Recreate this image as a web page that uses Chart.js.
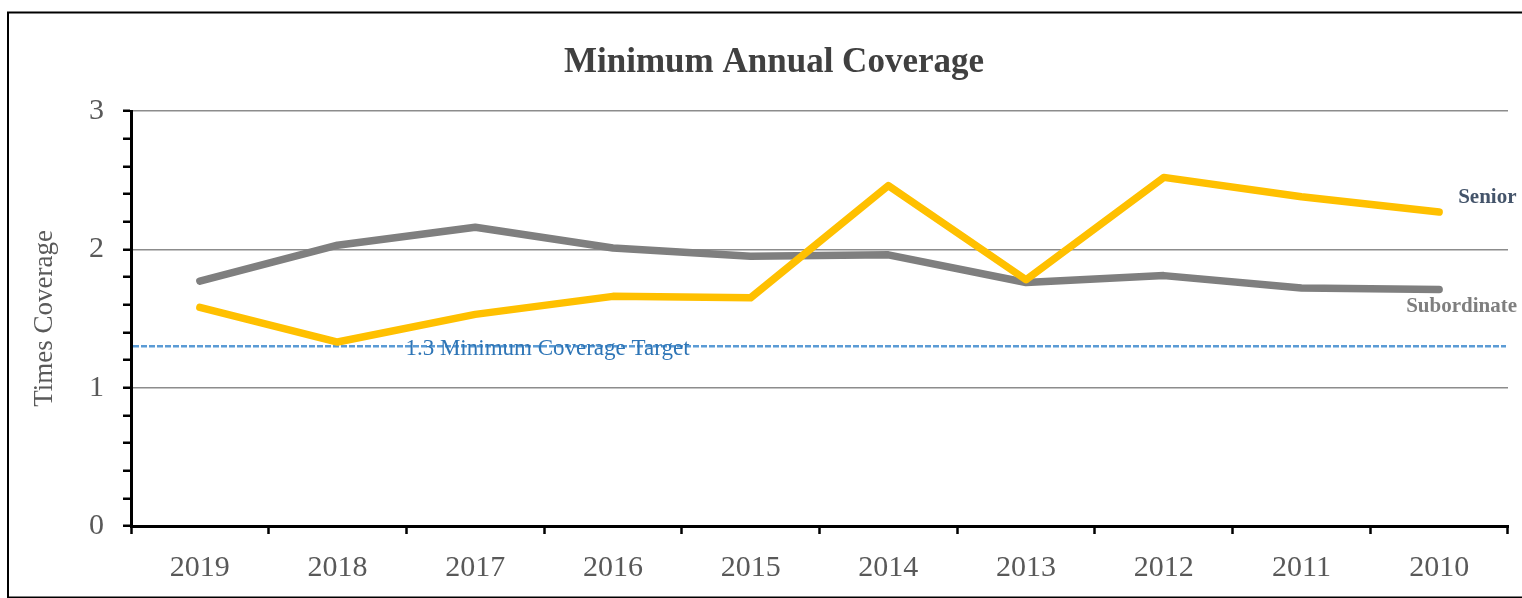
<!DOCTYPE html>
<html>
<head>
<meta charset="utf-8">
<title>Minimum Annual Coverage</title>
<script src="https://cdn.jsdelivr.net/npm/chart.js@4/dist/chart.umd.min.js"></script>
<style>
  html, body { margin: 0; padding: 0; background: #ffffff; }
  #wrap { width: 1522px; height: 598px; }
</style>
</head>
<body>
<div id="wrap"><canvas id="coverageChart" width="1522" height="598"></canvas></div>
<script>
// Años (el eje va de más reciente a más antiguo)
var years = ["2019", "2018", "2017", "2016", "2015", "2014", "2013", "2012", "2011", "2010"];

// Cobertura de las series
var senior = [1.58, 1.33, 1.53, 1.66, 1.65, 2.46, 1.78, 2.52, 2.38, 2.27];
var subordinate = [1.77, 2.03, 2.16, 2.01, 1.95, 1.96, 1.76, 1.81, 1.72, 1.71];

// Objetivo mínimo de cobertura
var target = 1.3;
var targetLabel = "1.3 Minimum Coverage Target";
var chartTitle = "Minimum Annual Coverage";

var serif = "'Liberation Serif', 'Times New Roman', serif";

function isWhole(v) {
  return Math.abs(v - Math.round(v)) < 1e-6;
}

// Marco, título, línea objetivo y etiquetas de las series
var decorations = {
  id: "decorations",
  beforeDraw: function (chart) {
    var ctx = chart.ctx;
    ctx.save();
    ctx.strokeStyle = "#000000";
    ctx.lineWidth = 2;
    ctx.strokeRect(8, 12.5, 1600, 585);

    ctx.font = "bold 35px " + serif;
    ctx.fillStyle = "#404040";
    ctx.textAlign = "center";
    ctx.textBaseline = "alphabetic";
    ctx.fillText(chartTitle, 774, 72);
    ctx.restore();
  },
  beforeDatasetsDraw: function (chart) {
    var ctx = chart.ctx;
    var area = chart.chartArea;
    var y = chart.scales.y.getPixelForValue(target);
    ctx.save();
    ctx.strokeStyle = "#5b9bd5";
    ctx.lineWidth = 2.5;
    ctx.setLineDash([6, 2]);
    ctx.beginPath();
    ctx.moveTo(area.left + 2, y);
    ctx.lineTo(area.right - 2, y);
    ctx.stroke();
    ctx.restore();
  },
  afterDatasetsDraw: function (chart) {
    var ctx = chart.ctx;
    var xs = chart.scales.x;
    var ys = chart.scales.y;
    var last = years.length - 1;
    ctx.save();
    ctx.textBaseline = "middle";
    ctx.textAlign = "left";

    // texto del objetivo
    ctx.font = "23px " + serif;
    ctx.fillStyle = "#2e75b6";
    ctx.fillText(targetLabel, xs.getPixelForValue(1.5) - 1, ys.getPixelForValue(target) + 3);

    // nombres de las series al final de cada línea
    var endX = xs.getPixelForValue(last) + 19;
    ctx.font = "bold 21px " + serif;
    ctx.fillStyle = "#44546a";
    ctx.fillText("Senior", endX, ys.getPixelForValue(senior[last]) - 14);
    ctx.fillStyle = "#7f7f7f";
    ctx.fillText("Subordinate", endX - 52, ys.getPixelForValue(subordinate[last]) + 17);
    ctx.restore();
  }
};

var ctx = document.getElementById("coverageChart").getContext("2d");
var coverageChart = new Chart(ctx, {
  type: "line",
  data: {
    labels: years,
    datasets: [
      {
        label: "Senior",
        data: senior,
        borderColor: "#ffc000",
        borderWidth: 7.5,
        borderCapStyle: "round",
        borderJoinStyle: "round",
        pointRadius: 0,
        tension: 0,
        fill: false
      },
      {
        label: "Subordinate",
        data: subordinate,
        borderColor: "#7f7f7f",
        borderWidth: 7.5,
        borderCapStyle: "round",
        borderJoinStyle: "round",
        pointRadius: 0,
        tension: 0,
        fill: false
      }
    ]
  },
  options: {
    responsive: false,
    animation: false,
    devicePixelRatio: 1,
    layout: {
      padding: { top: 111, right: 14, bottom: 0, left: 0 }
    },
    scales: {
      x: {
        offset: true,
        afterFit: function (scale) {
          scale.height = 72;
        },
        border: { display: true, color: "#000000", width: 3 },
        grid: {
          offset: true,
          drawOnChartArea: false,
          drawTicks: true,
          tickLength: 8,
          tickWidth: 2.5,
          tickColor: "#000000"
        },
        ticks: {
          color: "#595959",
          padding: 16,
          maxRotation: 0,
          font: { family: serif, size: 30 }
        }
      },
      y: {
        min: 0,
        max: 3,
        afterFit: function (scale) {
          scale.width = 131;
        },
        border: { display: true, color: "#000000", width: 3 },
        grid: {
          drawTicks: true,
          tickLength: 8,
          tickWidth: 2.5,
          tickColor: "#000000",
          lineWidth: 1.5,
          color: function (c) {
            var v = c.tick ? c.tick.value : 0;
            return isWhole(v) && v > 0 ? "#8c8c8c" : "rgba(0,0,0,0)";
          }
        },
        ticks: {
          stepSize: 0.2,
          color: "#595959",
          padding: 19,
          autoSkip: false,
          font: { family: serif, size: 30 },
          callback: function (value) {
            return isWhole(value) ? Math.round(value) : "";
          }
        },
        title: {
          display: true,
          text: "Times Coverage",
          color: "#595959",
          padding: { top: 29, bottom: 0 },
          font: { family: serif, size: 27 }
        }
      }
    },
    plugins: {
      legend: { display: false },
      tooltip: { enabled: false },
      title: { display: false }
    }
  },
  plugins: [decorations]
});
</script>
</body>
</html>
